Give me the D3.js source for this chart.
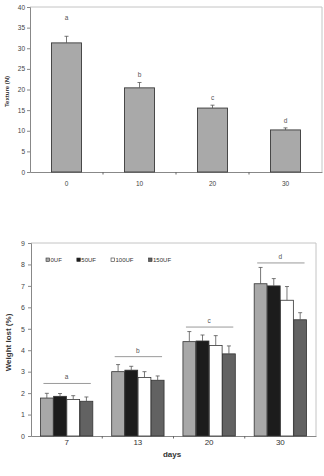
<!DOCTYPE html>
<html>
<head>
<meta charset="utf-8">
<script src="https://cdn.jsdelivr.net/npm/d3@7"></script>
<style>
  html, body { margin: 0; padding: 0; background: #fff; }
  svg { display: block; font-family: "Liberation Sans", Arial, sans-serif; }
</style>
</head>
<body>
<div id="chart"></div>
<script>
// ---- data ----
const textureDays = ["0", "10", "20", "30"];
const textureMean = [31.3, 20.4, 15.5, 10.2];
const textureErr = [1.6, 1.3, 0.7, 0.5];
const textureLetters = ["a", "b", "c", "d"];
const textureLetterLevel = [37.3, 23.7, 18.0, 12.4];
const textureTicks = [0, 5, 10, 15, 20, 25, 30, 35, 40];

const weightDays = ["7", "13", "20", "30"];
const treatments = ["0UF", "50UF", "100UF", "150UF"];
const weight0 = [1.77, 3.0, 4.4, 7.1];
const weight50 = [1.85, 3.07, 4.43, 7.0];
const weight100 = [1.7, 2.73, 4.22, 6.33];
const weight150 = [1.62, 2.6, 3.83, 5.42];
const err0 = [0.22, 0.33, 0.47, 0.76];
const err50 = [0.13, 0.18, 0.28, 0.34];
const err100 = [0.18, 0.27, 0.46, 0.64];
const err150 = [0.2, 0.2, 0.37, 0.33];
const weightLetters = ["a", "b", "c", "d"];
const weightLineLevel = [2.45, 3.7, 5.08, 8.07];
const weightTicks = [0, 1, 2, 3, 4, 5, 6, 7, 8, 9];

const seriesFill = ["#a8a8a8", "#1c1c1c", "#ffffff", "#626262"];

const W = 324, H = 476;
const svg = d3.select("#chart").append("svg")
  .attr("width", W).attr("height", H)
  .attr("viewBox", [0, 0, W, H]);

// ---- top chart: texture ----
{
  const left = 30, right = 322, top = 7, bottom = 172;
  const x = d3.scaleBand(textureDays, [left, right]).paddingInner(0.59).paddingOuter(0.295);
  const y = d3.scaleLinear([0, 40], [bottom, top]);
  const step = x.step();
  const g = svg.append("g");

  // frame top + right
  g.append("path")
    .attr("d", `M${left},${top}H${right}V${bottom}`)
    .attr("fill", "none").attr("stroke", "#c4c4c4").attr("stroke-width", 1);

  const yAxis = g.append("g").attr("transform", `translate(${left},0)`)
    .call(d3.axisLeft(y).tickValues(textureTicks).tickSize(3).tickPadding(2));
  yAxis.selectAll("text").attr("font-size", 6.5).attr("fill", "#444");
  yAxis.selectAll("line, path").attr("stroke", "#888");

  const xAxis = g.append("g").attr("transform", `translate(0,${bottom})`)
    .call(d3.axisBottom(x).tickSize(0).tickPadding(9));
  xAxis.select(".domain").attr("stroke", "#888");
  xAxis.selectAll("text").attr("font-size", 6.5).attr("fill", "#444");

  // category boundary ticks
  g.selectAll(".bt").data(textureDays.slice(1)).join("line")
    .attr("x1", d => x(d) - x.paddingInner() * step / 2)
    .attr("x2", d => x(d) - x.paddingInner() * step / 2)
    .attr("y1", bottom).attr("y2", bottom + 2.5)
    .attr("stroke", "#666");

  g.selectAll(".bar").data(textureDays).join("rect")
    .attr("x", d => x(d)).attr("width", x.bandwidth())
    .attr("y", (d, i) => y(textureMean[i]))
    .attr("height", (d, i) => y(0) - y(textureMean[i]))
    .attr("fill", "#a9a9a9").attr("stroke", "#3a3a3a").attr("stroke-width", 0.9);

  const cx = d => x(d) + x.bandwidth() / 2;
  g.selectAll(".err").data(textureDays).join("path")
    .attr("d", (d, i) => `M${cx(d)},${y(textureMean[i])}V${y(textureMean[i] + textureErr[i])}` +
      `M${cx(d) - 2},${y(textureMean[i] + textureErr[i])}H${cx(d) + 2}`)
    .attr("stroke", "#555").attr("stroke-width", 0.8).attr("fill", "none");

  g.selectAll(".lt").data(textureDays).join("text")
    .attr("x", cx).attr("y", (d, i) => y(textureLetterLevel[i]))
    .attr("dy", "0.35em").attr("text-anchor", "middle")
    .attr("font-size", 6.5).attr("fill", "#555")
    .text((d, i) => textureLetters[i]);

  g.append("text")
    .attr("transform", `translate(9,${(top + bottom) / 2 + 2}) rotate(-90)`)
    .attr("text-anchor", "middle").attr("font-size", 6).attr("font-weight", "bold").attr("fill", "#333")
    .text("Texture (N)");
}

// ---- bottom chart: weight loss ----
{
  const left = 31, right = 316, top = 243, bottom = 436;
  const values = [weight0, weight50, weight100, weight150];
  const errs = [err0, err50, err100, err150];
  const x0 = d3.scaleBand(weightDays, [left, right]).paddingInner(0.265).paddingOuter(0.1325);
  const x1 = d3.scaleBand(treatments, [0, x0.bandwidth()]).paddingInner(0.03);
  const y = d3.scaleLinear([0, 9], [bottom, top]);
  const step = x0.step();
  const g = svg.append("g");

  g.append("path")
    .attr("d", `M${left},${top}H${right}V${bottom}`)
    .attr("fill", "none").attr("stroke", "#c4c4c4").attr("stroke-width", 1);

  const yAxis = g.append("g").attr("transform", `translate(${left},0)`)
    .call(d3.axisLeft(y).tickValues(weightTicks).tickSize(3).tickPadding(3));
  yAxis.selectAll("text").attr("font-size", 7).attr("fill", "#444");
  yAxis.selectAll("line, path").attr("stroke", "#888");

  const xAxis = g.append("g").attr("transform", `translate(0,${bottom})`)
    .call(d3.axisBottom(x0).tickSize(0).tickPadding(3));
  xAxis.select(".domain").attr("stroke", "#888");
  xAxis.selectAll("text").attr("font-size", 8).attr("fill", "#333");

  g.selectAll(".bt").data(weightDays.slice(1)).join("line")
    .attr("x1", d => x0(d) - x0.paddingInner() * step / 2)
    .attr("x2", d => x0(d) - x0.paddingInner() * step / 2)
    .attr("y1", bottom).attr("y2", bottom + 2.5)
    .attr("stroke", "#666");

  const flat = [];
  weightDays.forEach((day, i) => treatments.forEach((t, s) =>
    flat.push({ day, t, s, v: values[s][i], e: errs[s][i] })));

  g.selectAll(".bar").data(flat).join("rect")
    .attr("x", d => x0(d.day) + x1(d.t)).attr("width", x1.bandwidth())
    .attr("y", d => y(d.v)).attr("height", d => y(0) - y(d.v))
    .attr("fill", d => seriesFill[d.s]).attr("stroke", "#333").attr("stroke-width", 0.8);

  const bx = d => x0(d.day) + x1(d.t) + x1.bandwidth() / 2;
  g.selectAll(".err").data(flat).join("path")
    .attr("d", d => `M${bx(d)},${y(d.v)}V${y(d.v + d.e)}M${bx(d) - 2},${y(d.v + d.e)}H${bx(d) + 2}`)
    .attr("stroke", "#555").attr("stroke-width", 0.8).attr("fill", "none");

  // significance lines + letters
  g.selectAll(".sig").data(weightDays).join("line")
    .attr("x1", d => x0(d) + 3).attr("x2", d => x0(d) + x0.bandwidth() - 2)
    .attr("y1", (d, i) => y(weightLineLevel[i])).attr("y2", (d, i) => y(weightLineLevel[i]))
    .attr("stroke", "#9a9a9a").attr("stroke-width", 1);
  g.selectAll(".lt").data(weightDays).join("text")
    .attr("x", d => x0(d) + x0.bandwidth() / 2)
    .attr("y", (d, i) => y(weightLineLevel[i]) - 4)
    .attr("text-anchor", "middle").attr("font-size", 6.5).attr("fill", "#555")
    .text((d, i) => weightLetters[i]);

  // legend
  const lg = g.append("g").attr("transform", `translate(46,${top + 17})`);
  let lx = 0;
  treatments.forEach((t, s) => {
    const item = lg.append("g").attr("transform", `translate(${lx},0)`);
    item.append("rect").attr("x", 0).attr("y", -2).attr("width", 3.5).attr("height", 3.5)
      .attr("fill", seriesFill[s]).attr("stroke", "#333").attr("stroke-width", 0.6);
    const txt = item.append("text").attr("x", 4.5).attr("y", 0).attr("dy", "0.35em")
      .attr("font-size", 6).attr("fill", "#333").text(t);
    lx += 4.5 + txt.node().getComputedTextLength() + 15;
  });

  g.append("text")
    .attr("transform", `translate(11,${(top + bottom) / 2 + 3}) rotate(-90)`)
    .attr("text-anchor", "middle").attr("font-size", 8).attr("font-weight", "bold").attr("fill", "#333")
    .text("Weight lost (%)");

  g.append("text")
    .attr("x", 172).attr("y", 457)
    .attr("text-anchor", "middle").attr("font-size", 8).attr("font-weight", "bold").attr("fill", "#333")
    .text("days");
}
</script>
</body>
</html>
